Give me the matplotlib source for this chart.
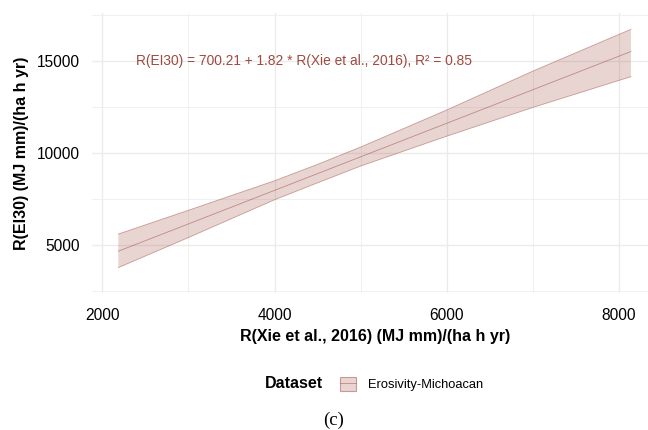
import matplotlib
matplotlib.use("Agg")
import matplotlib.pyplot as plt
from matplotlib.patches import Patch
from matplotlib.lines import Line2D

# Data (regression line and its confidence band)
x_vals = [2186, 3000, 4000, 4500, 5000, 6000, 7000, 8140]
fit_vals = [4680, 6160, 7980, 8890, 9800, 11620, 13440, 15515]
upper_vals = [5610, 6900, 8500, 9390, 10330, 12340, 14450, 16720]
lower_vals = [3790, 5420, 7470, 8390, 9300, 10920, 12480, 14150]

x_major = [2000, 4000, 6000, 8000]
x_minor = [3000, 5000, 7000]
y_major = [5000, 10000, 15000]
y_minor = [2500, 7500, 12500, 17500]

series_name = "Erosivity-Michoacan"
equation = "R(EI30) = 700.21 + 1.82 * R(Xie et al., 2016), R\u00b2 = 0.85"
eq_x, eq_y = 2392, 15000

col = "#9E4A40"
plt.rcParams['font.family'] = ['Liberation Sans', 'DejaVu Sans']

fig = plt.figure(figsize=(6.48, 4.30), dpi=100)
ax = fig.add_axes([92/648, (430-293)/430, 556/648, 280/430])

ax.set_xlim(1880, 8338)
ax.set_ylim(2412, 17604)

for v in x_minor:
    ax.axvline(v, color="#EEEEEE", lw=0.6, zorder=0)
for v in x_major:
    ax.axvline(v, color="#EBEBEB", lw=1.0, zorder=0)
for v in y_minor:
    ax.axhline(v, color="#EEEEEE", lw=0.6, zorder=0)
for v in y_major:
    ax.axhline(v, color="#EBEBEB", lw=1.0, zorder=0)

ax.fill_between(x_vals, lower_vals, upper_vals, facecolor=col, alpha=0.23,
                edgecolor="none", zorder=2)
ax.plot(x_vals, upper_vals, color=col, alpha=0.5, lw=0.6, zorder=3)
ax.plot(x_vals, lower_vals, color=col, alpha=0.5, lw=0.6, zorder=3)
ax.plot(x_vals, fit_vals, color=col, alpha=0.55, lw=0.6, zorder=3)

ax.text(eq_x, eq_y, equation, color=col, fontsize=9.9, ha='left', va='center')

ax.set_xticks(x_major)
ax.set_xticklabels([str(v) for v in x_major])
ax.set_yticks(y_major)
ax.set_yticklabels([str(v) for v in y_major])
ax.tick_params(axis='both', length=0, labelsize=11.2, colors='black')
ax.tick_params(axis='x', pad=11)
ax.tick_params(axis='y', pad=9)
for s in ax.spines.values():
    s.set_visible(False)

fig.text(375/648, 1 - 337/430, "R(Xie et al., 2016) (MJ mm)/(ha h yr)",
         ha='center', va='center', fontsize=11.5, fontweight='bold')
fig.text(21.5/648, 1 - 153/430, "R(EI30) (MJ mm)/(ha h yr)", rotation=90,
         ha='center', va='center', fontsize=11.5, fontweight='bold')

# Legend
fig.text(265/648, 1 - 384/430, "Dataset", ha='left', va='center',
         fontsize=11.5, fontweight='bold')
handle = (Patch(facecolor=(0.62, 0.29, 0.25, 0.23), edgecolor=(0.62, 0.29, 0.25, 0.5), lw=0.8),
          Line2D([0], [0], color=col, alpha=0.55, lw=0.6))
leg = fig.legend([handle], [series_name], loc='center left',
                 bbox_to_anchor=(331/648, 1 - 384/430), frameon=False,
                 fontsize=9.3, handlelength=1.2, handleheight=1.3,
                 handletextpad=1.0, borderpad=0.2)

fig.text(334/648, 1 - 420/430, "(c)", ha='center', va='center',
         fontsize=13.5, family='Liberation Serif')

fig.savefig("out.png", dpi=100)
